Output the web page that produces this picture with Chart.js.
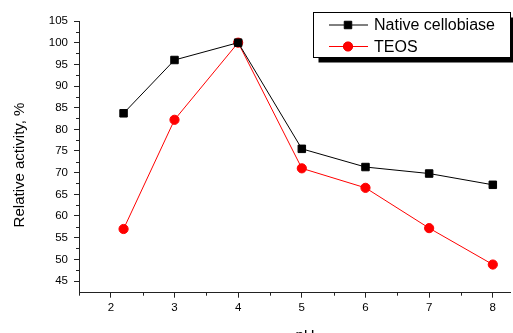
<!DOCTYPE html>
<html>
<head>
<meta charset="utf-8">
<script src="https://cdn.jsdelivr.net/npm/chart.js@4"></script>
<style>
  html, body { margin: 0; padding: 0; background: #fff; }
  #wrap { width: 513px; height: 333px; }
</style>
</head>
<body>
<div id="wrap"><canvas id="chart"></canvas></div>
<script>
// data
const phValues = [2.2, 3, 4, 5, 6, 7, 8];
const nativeCellobiase = [83.7, 96.0, 100.0, 75.5, 71.3, 69.8, 67.2];
const teos = [57.0, 82.2, 100.0, 71.0, 66.5, 57.2, 48.8];
const xTicks = [2, 3, 4, 5, 6, 7, 8];
const yTicks = [45, 50, 55, 60, 65, 70, 75, 80, 85, 90, 95, 100, 105];

const FONT = 'Liberation Sans, Arial, sans-serif';
const AXIS = '#222';

// minor ticks, axis titles, legend box
const decorPlugin = {
    id: 'decor',
    afterDraw(chart) {
        const ctx = chart.ctx;
        const xs = chart.scales.x, ys = chart.scales.y;
        const area = chart.chartArea;
        ctx.save();
        ctx.strokeStyle = AXIS;
        ctx.lineWidth = 1;
        ctx.beginPath();
        for (let v = 1.5; v <= 8.3; v += 1) {
            const px = Math.round(xs.getPixelForValue(v)) + 0.5;
            ctx.moveTo(px, area.bottom);
            ctx.lineTo(px, area.bottom + 3);
        }
        for (let v = 47.5; v < 105; v += 5) {
            const py = Math.round(ys.getPixelForValue(v)) + 0.5;
            ctx.moveTo(area.left, py);
            ctx.lineTo(area.left - 3, py);
        }
        ctx.stroke();

        // axis titles
        ctx.fillStyle = '#000';
        ctx.font = '15px ' + FONT;
        ctx.textAlign = 'center';
        ctx.textBaseline = 'middle';
        ctx.save();
        ctx.translate(20, 165);
        ctx.rotate(-Math.PI / 2);
        ctx.fillText('Relative activity, %', 0, 0);
        ctx.restore();
        ctx.fillText('pH', 305, 336);

        // legend
        const bx = 313.5, by = 12.5, bw = 197, bh = 45;
        ctx.fillStyle = '#000';
        ctx.fillRect(bx + 5, by + 5, bw, bh);
        ctx.fillStyle = '#fff';
        ctx.fillRect(bx, by, bw, bh);
        ctx.strokeStyle = '#000';
        ctx.strokeRect(bx, by, bw, bh);
        const rows = chart.data.datasets;
        rows.forEach((ds, i) => {
            const y = 25 + i * 21.5;
            ctx.strokeStyle = ds.borderColor;
            ctx.beginPath();
            ctx.moveTo(329, y);
            ctx.lineTo(368, y);
            ctx.stroke();
            Chart.helpers.drawPoint(ctx, {
                pointStyle: ds.pointStyle,
                radius: ds.pointRadius,
                borderWidth: 1
            }, 348, y);
            ctx.fillStyle = ds.pointBackgroundColor;
            ctx.fill();
            ctx.fillStyle = '#000';
            ctx.font = '16px ' + FONT;
            ctx.textAlign = 'left';
            ctx.fillText(ds.label, 374, y + 1);
        });
        ctx.restore();
    }
};

new Chart(document.getElementById('chart'), {
    type: 'line',
    data: {
        datasets: [{
            label: 'Native cellobiase',
            data: phValues.map((x, i) => ({ x, y: nativeCellobiase[i] })),
            borderColor: '#000',
            borderWidth: 1,
            pointStyle: 'rect',
            pointRadius: 5.3,
            pointBackgroundColor: '#000',
            pointBorderColor: '#000',
            pointBorderWidth: 1
        }, {
            label: 'TEOS',
            data: phValues.map((x, i) => ({ x, y: teos[i] })),
            borderColor: '#ff0000',
            borderWidth: 1,
            pointStyle: 'circle',
            pointRadius: 4.6,
            pointBackgroundColor: '#ff0000',
            pointBorderColor: '#ff0000',
            pointBorderWidth: 1
        }]
    },
    options: {
        responsive: true,
        maintainAspectRatio: false,
        animation: false,
        layout: { autoPadding: false, padding: { top: 21, right: 3, left: 0, bottom: 0 } },
        plugins: {
            legend: { display: false },
            tooltip: { enabled: false }
        },
        scales: {
            x: {
                type: 'linear',
                min: 1.5,
                max: 8.27,
                afterBuildTicks: s => { s.ticks = xTicks.map(v => ({ value: v })); },
                afterFit: s => { s.height = 40.3; },
                grid: { drawOnChartArea: false, tickLength: 5, color: AXIS },
                border: { color: AXIS, width: 1 },
                ticks: { color: '#000', font: { family: FONT, size: 11.5 }, padding: 3, maxRotation: 0 }
            },
            y: {
                min: 42.3,
                max: 105,
                afterBuildTicks: s => { s.ticks = yTicks.map(v => ({ value: v })); },
                afterFit: s => { s.width = 79; },
                grid: { drawOnChartArea: false, tickLength: 5, color: AXIS },
                border: { color: AXIS, width: 1 },
                ticks: { color: '#000', font: { family: FONT, size: 11.5 }, padding: 6 }
            }
        }
    },
    plugins: [decorPlugin]
});
</script>
</body>
</html>
